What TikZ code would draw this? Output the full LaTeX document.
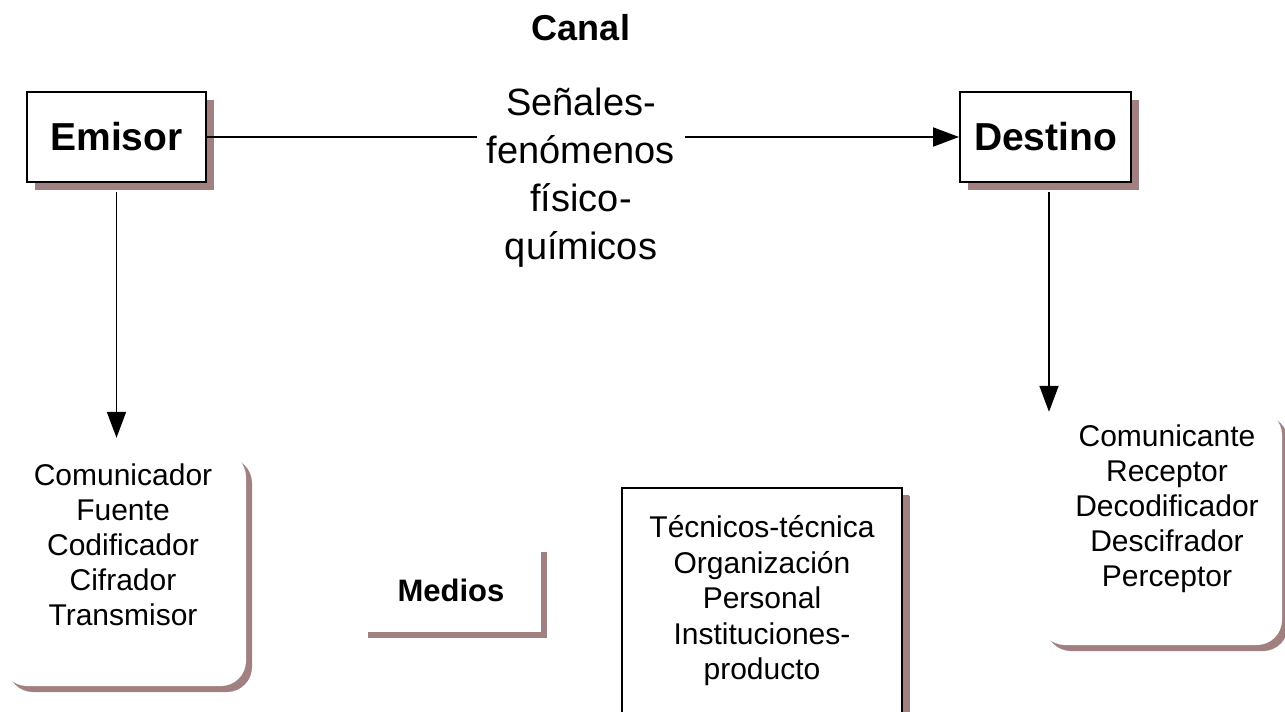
\documentclass[tikz,border=0pt]{standalone}
\usepackage{fontspec}
\setmainfont{Liberation Sans}
\usetikzlibrary{arrows.meta,shadows,positioning}
\definecolor{sombra}{RGB}{160,128,128}

\tikzset{
	caja/.style={draw, line width=1.8pt, fill=white, inner sep=0pt,
		drop shadow={shadow xshift=8pt, shadow yshift=-8pt, fill=sombra, opacity=1}},
	nube/.style={fill=white, inner sep=0pt, rounded corners=25pt,
		drop shadow={shadow xshift=6pt, shadow yshift=-6pt, fill=sombra, opacity=1}},
	plana/.style={fill=white, inner sep=0pt,
		drop shadow={shadow xshift=6pt, shadow yshift=-6pt, fill=sombra, opacity=1}},
	titulo/.style={font=\fontsize{39}{44}\selectfont\bfseries},
	lista/.style={align=center, font=\fontsize{30}{35}\selectfont},
	enlace/.style={line width=1.8pt},
	flecha/.style={line width=1.8pt, -{Triangle[length=26pt, width=19pt]}}
}

\begin{document}
\begin{tikzpicture}[x=1pt, y=-1pt]
	\useasboundingbox (0,0) rectangle (1285,712);

	% cajas de arriba
	\node[caja, titulo, minimum width=179pt, minimum height=90pt] (emisor) at (116.5,137) {Emisor};
	\node[caja, titulo, minimum width=171pt, minimum height=90pt] (destino) at (1045.5,137) {Destino};
	\node[font=\fontsize{36}{40}\selectfont\bfseries] (canal) at (581,28) {Canal};
	\node[align=center, inner sep=10pt, font=\fontsize{38}{48}\selectfont] (senales) at (581,178)
		{Señales-\\fenómenos\\físico-\\químicos};

	% cajas de abajo
	\node[nube, minimum width=244pt, minimum height=234pt] (emisorbox) at (124,569) {};
	\node[lista] (emisorlist) at (123,545) {Comunicador\\Fuente\\Codificador\\Cifrador\\Transmisor};

	\node[nube, minimum width=242pt, minimum height=235pt] (destinobox) at (1161,527.5) {};
	\node[lista] (destinolist) at (1167,509) {Comunicante\\Receptor\\Decodificador\\Descifrador\\Perceptor};

	\node[plana, minimum width=179pt, minimum height=86pt] (mediosbox) at (451.5,589) {};
	\node[font=\fontsize{31}{35}\selectfont\bfseries] (medios) at (451,590) {Medios};

	\node[caja, line width=1.5pt, minimum width=280pt, minimum height=252pt,
		drop shadow={shadow xshift=7pt, shadow yshift=-7pt, fill=sombra, opacity=1}] (tecnicosbox) at (762,614) {};
	\node[lista, font=\fontsize{30}{35.5}\selectfont] (tecnicos) at (762,601)
		{Técnicos-técnica\\Organización\\Personal\\Instituciones-\\producto};

	% conectores
	\draw[enlace] (emisor.east) -- (emisor.east -| senales.west);
	\draw[flecha] (senales.east |- destino.west) -- (destino.west);
	\draw[flecha] ([yshift=-9pt]emisor.south) -- ([yshift=14pt]emisorbox.north -| emisor.south);
	\draw[flecha] ([xshift=3.5pt, yshift=-9pt]destino.south) -- ([xshift=3.5pt, yshift=-2pt]destinobox.north -| destino.south);
\end{tikzpicture}
\end{document}
